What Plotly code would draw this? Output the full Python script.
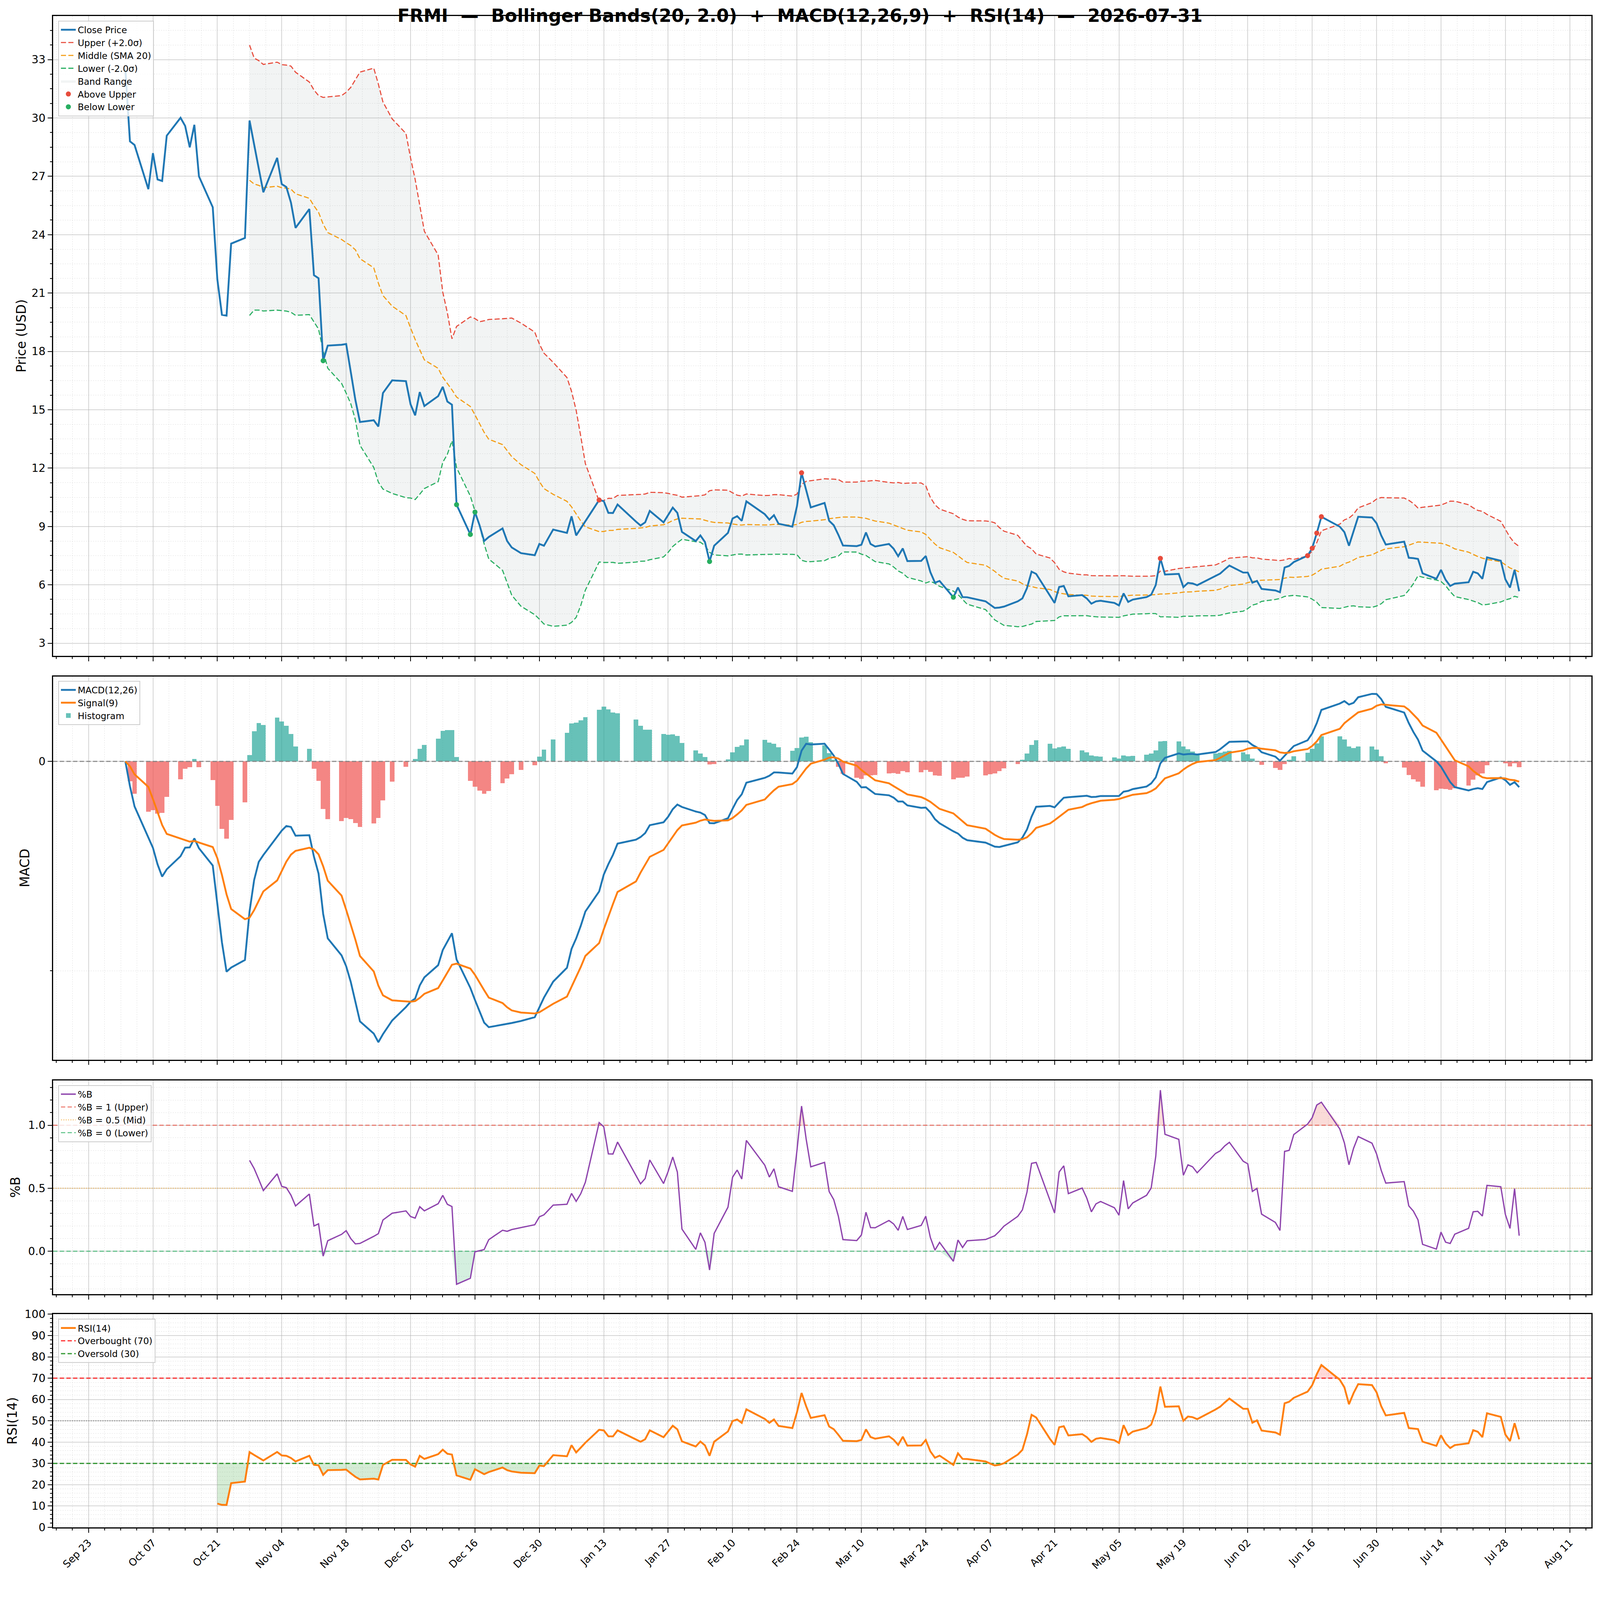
#!/usr/bin/env python3
"""
Bollinger Bands + MACD + RSI dashboard for one ticker (plotly).
Close prices read day by day (NYSE sessions), indicators computed with pandas.
"""

import numpy as np
import pandas as pd
import plotly.graph_objects as go
from plotly.subplots import make_subplots

TICKER = "FRMI"
AS_OF = "2026-07-31"
START = "2025-10-01"
END = "2026-07-31"
MARKET_HOLIDAYS = ["2025-11-27", "2025-12-25", "2026-01-01", "2026-01-19", "2026-02-16",
                   "2026-04-03", "2026-05-25", "2026-06-19", "2026-07-03"]

BB_WINDOW, BB_K = 20, 2.0
MACD_FAST, MACD_SLOW, MACD_SIGNAL = 12, 26, 9
RSI_PERIOD = 14
RSI_OVERBOUGHT, RSI_OVERSOLD = 70, 30

# daily closes, one list per month (trading sessions only)
close_oct = [32.50, 28.80, 28.61, 26.34, 28.19, 26.84, 26.76, 29.09, 30.01, 29.59, 28.49, 29.65,
             27.00, 25.41, 21.70, 19.88, 19.84, 23.54, 23.83, 29.87, 28.63, 27.44, 26.18]
close_nov = [27.95, 26.60, 26.45, 25.65, 24.35, 25.32, 21.92, 21.76, 17.52, 18.30, 18.34, 18.38,
             16.95, 15.51, 14.37, 14.46, 14.14, 15.86, 16.51]
close_dec = [16.47, 15.28, 14.71, 15.91, 15.19, 15.70, 16.18, 15.42, 15.26, 10.12, 8.59, 9.74,
             9.06, 8.25, 8.46, 8.90, 8.25, 7.92, 7.63, 7.52, 8.10, 8.01]
close_jan = [8.84, 8.67, 9.52, 8.54, 8.91, 9.29, 10.36, 10.30, 9.70, 9.69, 10.13,
             9.25, 9.05, 9.21, 9.80, 9.21, 9.59, 9.97, 9.70, 8.72]
close_feb = [8.25, 8.54, 8.20, 7.20, 8.01, 8.67, 9.41, 9.53, 9.29, 10.29, 9.63,
             9.35, 9.58, 9.14, 8.99, 10.04, 11.76, 10.87, 9.98]
close_mar = [10.21, 9.29, 9.06, 8.57, 8.02, 7.99, 8.06, 8.69, 8.10, 7.97, 8.10, 7.86,
             7.47, 7.87, 7.22, 7.23, 7.48, 6.65, 6.11, 6.20, 5.36, 5.86]
close_apr = [5.37, 5.36, 5.15, 4.97, 4.81, 4.83, 4.88, 5.15, 5.30, 5.83, 6.68,
             6.56, 5.45, 5.07, 5.89, 5.94, 5.41, 5.47, 5.30, 5.03, 5.15]
close_may = [5.18, 5.07, 4.94, 5.56, 5.12, 5.24, 5.37, 5.49, 5.99, 7.36, 6.53, 6.56,
             5.88, 6.10, 6.07, 5.98, 6.44, 6.58, 6.79, 6.99]
close_jun = [6.63, 6.63, 6.11, 6.20, 5.79, 5.71, 5.62, 6.89, 6.97, 7.17, 7.50, 7.88,
             8.66, 9.50, 8.99, 8.71, 8.01, 8.77, 9.50, 9.46, 9.16]
close_jul = [8.54, 8.07, 8.22, 7.39, 7.37, 7.33, 6.59, 6.31, 6.77, 6.26, 5.94,
             6.06, 6.13, 6.67, 6.59, 6.31, 7.41, 7.24, 6.28, 5.86, 6.77, 5.67]

FONT = "DejaVu Sans"
DAY_MS = 86400000


def pad_range(lo, hi, frac=0.05):
    span = hi - lo
    return [lo - span * frac, hi + span * frac]


def main():
    dates = pd.bdate_range(START, END, freq="C", holidays=MARKET_HOLIDAYS)
    close = pd.Series(close_oct + close_nov + close_dec + close_jan + close_feb + close_mar
                      + close_apr + close_may + close_jun + close_jul, index=dates)

    # Bollinger
    mid = close.rolling(BB_WINDOW).mean()
    sd = close.rolling(BB_WINDOW).std()
    upper = mid + BB_K * sd
    lower = mid - BB_K * sd
    pct_b = (close - lower) / (upper - lower)

    # MACD
    ema_f = close.ewm(span=MACD_FAST, adjust=False).mean()
    ema_s = close.ewm(span=MACD_SLOW, adjust=False).mean()
    macd = ema_f - ema_s
    signal = macd.ewm(span=MACD_SIGNAL, adjust=False).mean()
    hist = macd - signal

    # RSI (Wilder smoothing)
    delta = close.diff()
    gain = delta.clip(lower=0)
    loss = -delta.clip(upper=0)
    avg_g = gain.ewm(alpha=1 / RSI_PERIOD, adjust=False, min_periods=RSI_PERIOD).mean()
    avg_l = loss.ewm(alpha=1 / RSI_PERIOD, adjust=False, min_periods=RSI_PERIOD).mean()
    rsi = 100 - 100 / (1 + avg_g / avg_l)

    above = close > upper
    below = close < lower

    x0 = dates[0] - pd.Timedelta(hours=12)
    x1 = dates[-1] + pd.Timedelta(hours=12)
    span = x1 - x0
    xr = [x0 - span * 0.05, x1 + span * 0.05]
    xline = [xr[0], xr[1]]

    fig = make_subplots(rows=4, cols=1, shared_xaxes=True, vertical_spacing=0.01)

    dash = "13px,6px"

    # ---- price panel
    fig.add_trace(go.Scatter(x=dates, y=lower, mode="lines", line=dict(width=0),
                             showlegend=False, hoverinfo="skip"), row=1, col=1)
    fig.add_trace(go.Scatter(x=dates, y=upper, mode="lines", line=dict(width=0),
                             fill="tonexty", fillcolor="rgba(149,165,166,0.12)",
                             name="Band Range", legendrank=5, legend="legend"), row=1, col=1)
    fig.add_trace(go.Scatter(x=dates, y=upper, mode="lines", name=f"Upper (+{BB_K}σ)",
                             line=dict(color="#e74c3c", width=2.8, dash=dash),
                             legendrank=2, legend="legend"), row=1, col=1)
    fig.add_trace(go.Scatter(x=dates, y=mid, mode="lines", name=f"Middle (SMA {BB_WINDOW})",
                             line=dict(color="#f39c12", width=2.8, dash=dash),
                             legendrank=3, legend="legend"), row=1, col=1)
    fig.add_trace(go.Scatter(x=dates, y=lower, mode="lines", name=f"Lower (-{BB_K}σ)",
                             line=dict(color="#27ae60", width=2.8, dash=dash),
                             legendrank=4, legend="legend"), row=1, col=1)
    fig.add_trace(go.Scatter(x=dates, y=close, mode="lines", name="Close Price",
                             line=dict(color="#1f77b4", width=4.7),
                             legendrank=1, legend="legend"), row=1, col=1)
    fig.add_trace(go.Scatter(x=dates[above], y=close[above], mode="markers", name="Above Upper",
                             marker=dict(color="#e74c3c", size=13),
                             legendrank=6, legend="legend"), row=1, col=1)
    fig.add_trace(go.Scatter(x=dates[below], y=close[below], mode="markers", name="Below Lower",
                             marker=dict(color="#27ae60", size=13),
                             legendrank=7, legend="legend"), row=1, col=1)

    # ---- MACD panel
    bar_colors = np.where(hist >= 0, "rgba(38,166,154,0.7)", "rgba(239,83,80,0.7)")
    fig.add_trace(go.Bar(x=dates, y=hist, width=DAY_MS, marker=dict(color=bar_colors, line_width=0),
                         name="Histogram", legendrank=3, legend="legend2"), row=2, col=1)
    fig.add_trace(go.Scatter(x=xline, y=[0, 0], mode="lines", showlegend=False,
                             line=dict(color="rgba(128,128,128,0.9)", width=2.8, dash="11px,6px")),
                  row=2, col=1)
    fig.add_trace(go.Scatter(x=dates, y=macd, mode="lines", name=f"MACD({MACD_FAST},{MACD_SLOW})",
                             line=dict(color="#1f77b4", width=4.7), legendrank=1, legend="legend2"),
                  row=2, col=1)
    fig.add_trace(go.Scatter(x=dates, y=signal, mode="lines", name=f"Signal({MACD_SIGNAL})",
                             line=dict(color="#ff7f0e", width=4.7), legendrank=2, legend="legend2"),
                  row=2, col=1)

    # ---- %B panel
    one = pct_b * 0 + 1
    zero = pct_b * 0
    fig.add_trace(go.Scatter(x=dates, y=one, mode="lines", line=dict(width=0),
                             showlegend=False, hoverinfo="skip"), row=3, col=1)
    fig.add_trace(go.Scatter(x=dates, y=np.maximum(pct_b, 1), mode="lines", line=dict(width=0),
                             fill="tonexty", fillcolor="rgba(231,76,60,0.2)",
                             showlegend=False, hoverinfo="skip"), row=3, col=1)
    fig.add_trace(go.Scatter(x=dates, y=zero, mode="lines", line=dict(width=0),
                             showlegend=False, hoverinfo="skip"), row=3, col=1)
    fig.add_trace(go.Scatter(x=dates, y=np.minimum(pct_b, 0), mode="lines", line=dict(width=0),
                             fill="tonexty", fillcolor="rgba(39,174,96,0.2)",
                             showlegend=False, hoverinfo="skip"), row=3, col=1)
    fig.add_trace(go.Scatter(x=xline, y=[1, 1], mode="lines", name="%B = 1 (Upper)",
                             line=dict(color="rgba(231,76,60,0.7)", width=2.8, dash="11px,6px"),
                             legendrank=2, legend="legend3"), row=3, col=1)
    fig.add_trace(go.Scatter(x=xline, y=[0.5, 0.5], mode="lines", name="%B = 0.5 (Mid)",
                             line=dict(color="rgba(243,156,18,0.5)", width=2.8, dash="dot"),
                             legendrank=3, legend="legend3"), row=3, col=1)
    fig.add_trace(go.Scatter(x=xline, y=[0, 0], mode="lines", name="%B = 0 (Lower)",
                             line=dict(color="rgba(39,174,96,0.7)", width=2.8, dash="11px,6px"),
                             legendrank=4, legend="legend3"), row=3, col=1)
    fig.add_trace(go.Scatter(x=dates, y=pct_b, mode="lines", name="%B",
                             line=dict(color="#8e44ad", width=3.3), legendrank=1, legend="legend3"),
                  row=3, col=1)

    # ---- RSI panel
    ob = rsi * 0 + RSI_OVERBOUGHT
    os_ = rsi * 0 + RSI_OVERSOLD
    fig.add_trace(go.Scatter(x=dates, y=ob, mode="lines", line=dict(width=0),
                             showlegend=False, hoverinfo="skip"), row=4, col=1)
    fig.add_trace(go.Scatter(x=dates, y=np.maximum(rsi, RSI_OVERBOUGHT), mode="lines",
                             line=dict(width=0), fill="tonexty", fillcolor="rgba(255,0,0,0.15)",
                             showlegend=False, hoverinfo="skip"), row=4, col=1)
    fig.add_trace(go.Scatter(x=dates, y=os_, mode="lines", line=dict(width=0),
                             showlegend=False, hoverinfo="skip"), row=4, col=1)
    fig.add_trace(go.Scatter(x=dates, y=np.minimum(rsi, RSI_OVERSOLD), mode="lines",
                             line=dict(width=0), fill="tonexty", fillcolor="rgba(44,160,44,0.2)",
                             showlegend=False, hoverinfo="skip"), row=4, col=1)
    fig.add_trace(go.Scatter(x=xline, y=[50, 50], mode="lines", showlegend=False,
                             line=dict(color="rgba(128,128,128,0.8)", width=2.3, dash="dot")),
                  row=4, col=1)
    fig.add_trace(go.Scatter(x=xline, y=[RSI_OVERBOUGHT] * 2, mode="lines",
                             name=f"Overbought ({RSI_OVERBOUGHT})",
                             line=dict(color="rgba(255,0,0,0.75)", width=3.2, dash="11px,6px"),
                             legendrank=2, legend="legend4"), row=4, col=1)
    fig.add_trace(go.Scatter(x=xline, y=[RSI_OVERSOLD] * 2, mode="lines",
                             name=f"Oversold ({RSI_OVERSOLD})",
                             line=dict(color="rgba(0,128,0,0.75)", width=3.2, dash="11px,6px"),
                             legendrank=3, legend="legend4"), row=4, col=1)
    fig.add_trace(go.Scatter(x=dates, y=rsi, mode="lines", name=f"RSI({RSI_PERIOD})",
                             line=dict(color="#ff7f0e", width=4.7), legendrank=1, legend="legend4"),
                  row=4, col=1)

    # ---- axes
    grid_major = "rgba(176,176,176,0.55)"
    grid_minor = "rgba(200,200,200,0.55)"
    axis_common = dict(showline=True, linecolor="black", linewidth=2.8, mirror=True,
                       ticks="outside", ticklen=11, tickwidth=2.3, tickcolor="black",
                       showgrid=True, gridcolor=grid_major, gridwidth=1.9,
                       tickfont=dict(family=FONT, size=28, color="black"), zeroline=False)
    minor_common = dict(ticks="outside", ticklen=5.5, tickwidth=1.9, tickcolor="black",
                        showgrid=True, gridcolor=grid_minor, gridwidth=1.4, griddash="dot")
    for i in range(1, 5):
        fig.update_xaxes(axis_common, row=i, col=1, type="date", range=xr,
                         tick0="2025-09-23", dtick=14 * DAY_MS, tickformat="%b %d",
                         minor=dict(minor_common, dtick=3.5 * DAY_MS, tick0="2025-09-23"))
    fig.update_xaxes(showticklabels=True, tickangle=-45, tickfont=dict(size=26), row=4, col=1)

    price_lo = min(close.min(), lower.min())
    price_hi = max(close.max(), upper.max())
    macd_lo = min(macd.min(), signal.min(), hist.min())
    macd_hi = max(macd.max(), signal.max(), hist.max())

    title_font = dict(family=FONT, size=33, color="black")
    fig.update_yaxes(axis_common, row=1, col=1, range=pad_range(price_lo, price_hi),
                     tick0=0, dtick=3, title=dict(text="Price (USD)", font=title_font, standoff=5),
                     minor=dict(minor_common, dtick=0.75))
    fig.update_yaxes(axis_common, row=2, col=1, range=pad_range(macd_lo, macd_hi),
                     tick0=0, dtick=5, title=dict(text="MACD", font=title_font, standoff=14),
                     minor=dict(minor_common, dtick=2.5))
    fig.update_yaxes(axis_common, row=3, col=1, range=pad_range(pct_b.min(), pct_b.max()),
                     tick0=0, dtick=0.5, tickformat=".1f",
                     title=dict(text="%B", font=title_font, standoff=11),
                     minor=dict(minor_common, dtick=0.1))
    fig.update_yaxes(axis_common, row=4, col=1, range=[0, 100], tick0=0, dtick=10,
                     title=dict(text=f"RSI({RSI_PERIOD})", font=title_font, standoff=10),
                     minor=dict(minor_common, dtick=2))

    domains = [[0.5767, 1.0], [0.3095, 0.5630], [0.1544, 0.2957], [0.0, 0.1410]]
    for i, dom in enumerate(domains, start=1):
        key = "yaxis" if i == 1 else f"yaxis{i}"
        fig.layout[key].domain = dom

    legend_style = dict(x=0.0033, xanchor="left", yanchor="top", traceorder="normal",
                        bgcolor="rgba(255,255,255,0.8)",
                        bordercolor="rgba(204,204,204,1)", borderwidth=2,
                        font=dict(family=FONT, size=23, color="black"),
                        tracegroupgap=0, itemwidth=38)

    fig.update_layout(
        width=4080, height=4026, autosize=False,
        margin=dict(l=128, r=11, t=33, b=117),
        paper_bgcolor="white", plot_bgcolor="white",
        font=dict(family=FONT, color="black"),
        bargap=0,
        title=dict(text=f"<b>{TICKER} \u00a0—\u00a0 Bollinger Bands({BB_WINDOW}, {BB_K}) \u00a0+\u00a0 "
                        f"MACD({MACD_FAST},{MACD_SLOW},{MACD_SIGNAL}) \u00a0+\u00a0 RSI({RSI_PERIOD}) "
                        f"\u00a0—\u00a0 {AS_OF}</b>",
                   x=0.5, xanchor="center", y=1 - 32 / 4026, yanchor="middle",
                   font=dict(family=FONT, size=46, color="black")),
        legend=dict(legend_style, y=0.997),
        legend2=dict(legend_style, y=0.5602),
        legend3=dict(legend_style, y=0.2927),
        legend4=dict(legend_style, y=0.1380),
    )

    fig.write_html("out.html")


if __name__ == "__main__":
    main()
